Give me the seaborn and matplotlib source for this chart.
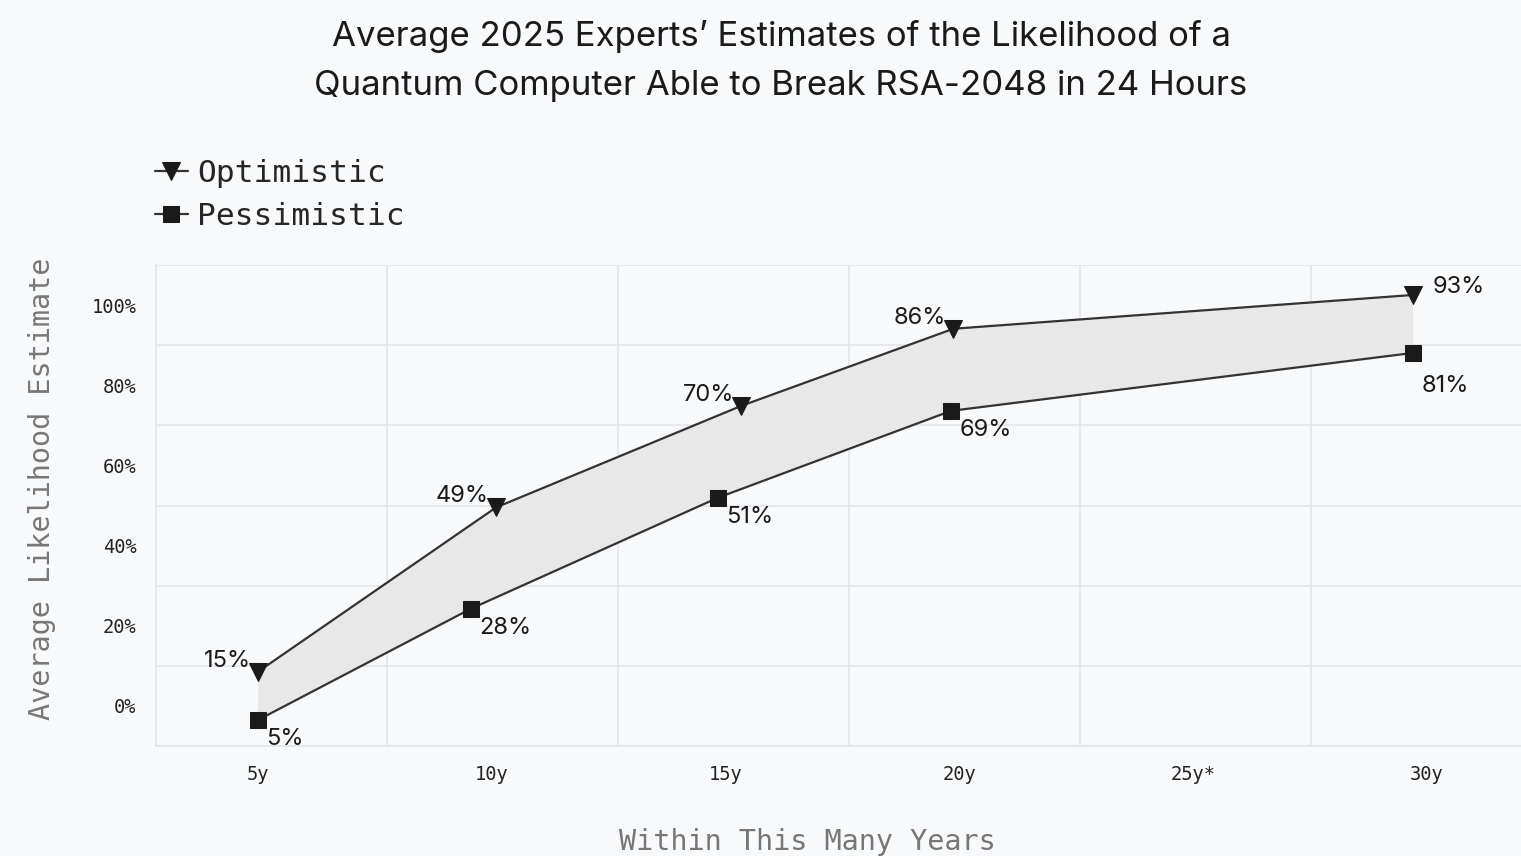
import matplotlib
matplotlib.use("Agg")
import matplotlib.pyplot as plt
import numpy as np
import pandas as pd
import seaborn as sns

# values (markers are slightly offset in x per series)
opt_years = [5, 10.15, 15.45, 20.05, 30]
optimistic = [15, 49, 70, 86, 93]
pes_years = [5, 9.6, 14.95, 20, 30]
pessimistic = [5, 28, 51, 69, 81]
x_tick_labels = ["5y", "10y", "15y", "20y", "25y*", "30y"]
y_tick_labels = ["0%", "20%", "40%", "60%", "80%", "100%"]

BG = "#f8f9fb"
GRID = "#e4e5e8"
LINE = "#333333"
MARK = "#1a1a1a"
MONO = "DejaVu Sans Mono"
SANS = ["Inter", "DejaVu Sans"]

sns.set_theme(style="whitegrid")
plt.rcParams["font.family"] = SANS

opt = pd.DataFrame({"year": opt_years, "value": optimistic})
pes = pd.DataFrame({"year": pes_years, "value": pessimistic})

fig = plt.figure(figsize=(15.21, 8.56), dpi=100, facecolor=BG)
ax = fig.add_axes([156 / 1521, 1 - 746 / 856, (1542 - 156) / 1521, (746 - 265) / 856])
ax.set_facecolor(BG)

# band between the two scenarios
ax.fill(np.r_[opt["year"], pes["year"][::-1]], np.r_[opt["value"], pes["value"][::-1]],
        color="#e8e8e9", lw=0, zorder=1)
sns.lineplot(data=opt, x="year", y="value", ax=ax, color=LINE, lw=1.6, marker="v",
             markersize=13, mfc=MARK, mec=MARK, label="Optimistic", zorder=3)
sns.lineplot(data=pes, x="year", y="value", ax=ax, color=LINE, lw=1.6, marker="s",
             markersize=11, mfc=MARK, mec=MARK, label="Pessimistic", zorder=3)

# value labels
for x, v in zip(opt_years, optimistic):
    if x == opt_years[-1]:
        ax.annotate(f"{v}%", (x, v), xytext=(14, 6), textcoords="offset points",
                    ha="left", va="center", fontsize=17, color="#1a1a1a")
    else:
        ax.annotate(f"{v}%", (x, v), xytext=(-5, 8), textcoords="offset points",
                    ha="right", va="center", fontsize=17, color="#1a1a1a")
for x, v in zip(pes_years, pessimistic):
    dy = -24 if x == pes_years[-1] else -14
    ax.annotate(f"{v}%", (x, v), xytext=(6, dy), textcoords="offset points",
                ha="left", va="center", fontsize=17, color="#1a1a1a")

# grid bands with labels centred inside them
x0 = 2.79
y0, y1 = -0.4, 99.2
ax.set_xlim(x0, x0 + 30)
ax.set_ylim(y0, y1)
ax.set_xticks([x0 + 5 * i for i in range(7)], minor=True)
ax.set_yticks(np.linspace(y0, y1, 7), minor=True)
ax.set_xticks([5 + 5.06 * i for i in range(6)], labels=x_tick_labels)
band = (y1 - y0) / 6
ax.set_yticks([y0 + band * (i + 0.5) for i in range(6)], labels=y_tick_labels)
ax.grid(False)
ax.grid(True, which="minor", color=GRID, lw=1.2)
ax.tick_params(which="both", length=0)
ax.tick_params(axis="x", pad=14)
ax.tick_params(axis="y", pad=14)
for lab in ax.get_xticklabels() + ax.get_yticklabels():
    lab.set_family(MONO)
    lab.set_fontsize(13.5)
    lab.set_color("#222222")
for side, sp in ax.spines.items():
    sp.set_visible(side in ("left", "bottom"))
    sp.set_color(GRID)
    sp.set_linewidth(1.2)
ax.set_xlabel("")
ax.set_ylabel("")

fig.text(42 / 1521, 1 - 489 / 856, "Average Likelihood Estimate", rotation=90,
         ha="center", va="center", family=MONO, fontsize=20.5, color="#777777")
fig.text(807 / 1521, 1 - 842 / 856, "Within This Many Years",
         ha="center", va="center", family=MONO, fontsize=20.5, color="#777777")

fig.text(781 / 1521, 1 - 61 / 856,
         "Average 2025 Experts\u2019 Estimates of the Likelihood of a\n"
         "Quantum Computer Able to Break RSA-2048 in 24 Hours",
         ha="center", va="center", fontsize=25, color="#1a1a1a", linespacing=1.65)

handles, labels = ax.get_legend_handles_labels()
ax.get_legend().remove()
fig.legend(handles, labels, loc="upper left", bbox_to_anchor=(155 / 1521, 1 - 159 / 856),
           frameon=False, prop={"family": MONO, "size": 22.5}, handlelength=1.05,
           handletextpad=0.3, labelspacing=0.45, borderpad=0, borderaxespad=0)

fig.savefig("out.png", dpi=100, facecolor=BG)
